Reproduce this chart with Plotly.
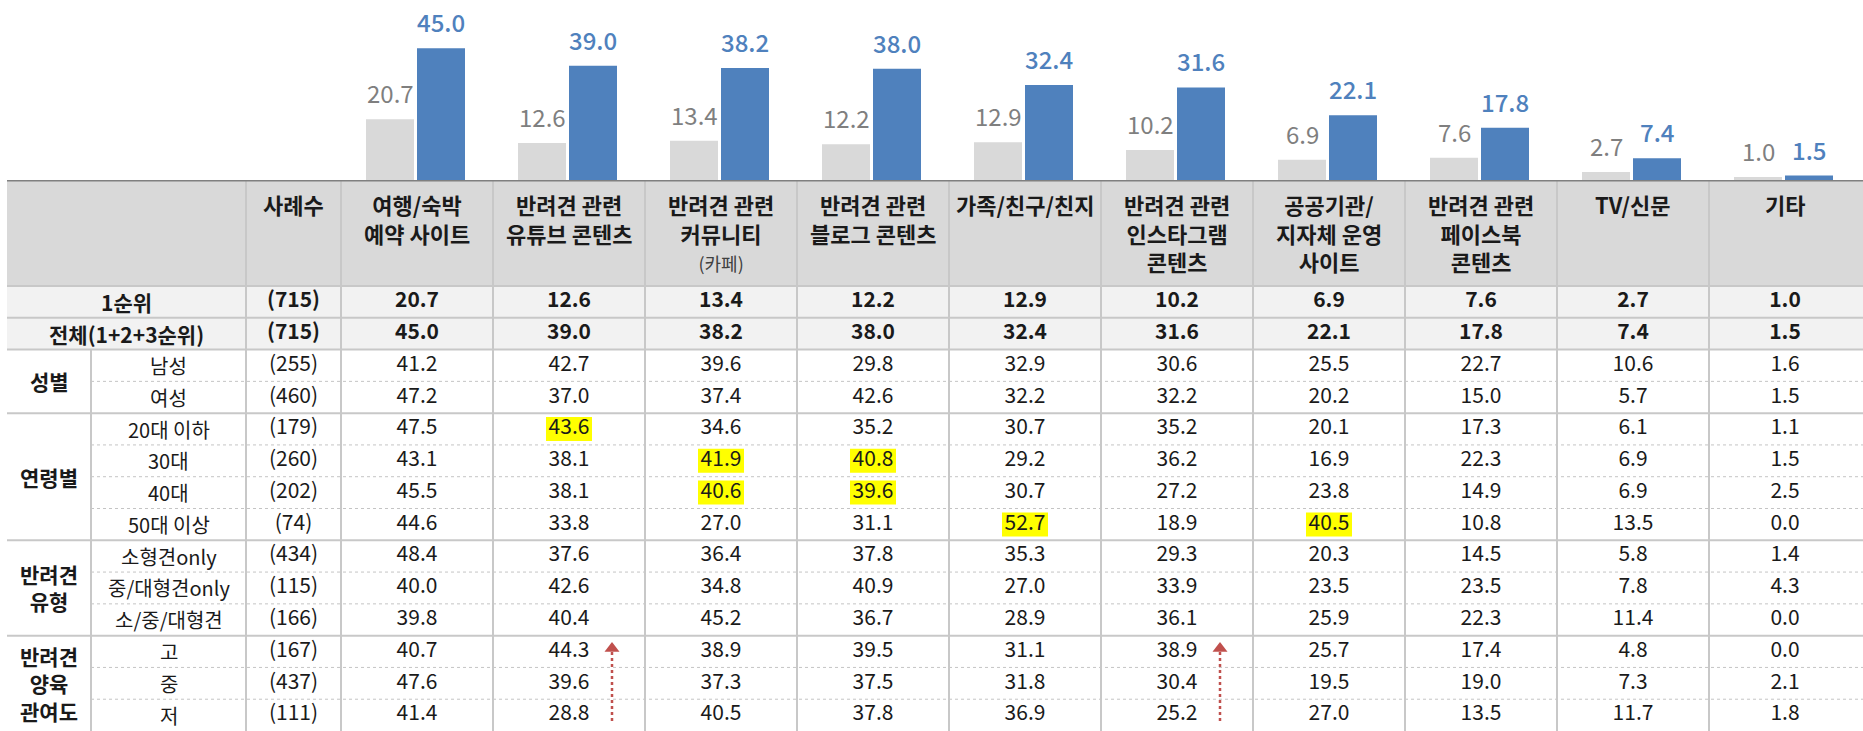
import plotly.graph_objects as go

# ---------------- data ----------------
categories = ["여행/숙박<br>예약 사이트", "반려견 관련<br>유튜브 콘텐츠", "반려견 관련<br>커뮤니티",
              "반려견 관련<br>블로그 콘텐츠", "가족/친구/친지", "반려견 관련<br>인스타그램<br>콘텐츠",
              "공공기관/<br>지자체 운영<br>사이트", "반려견 관련<br>페이스북<br>콘텐츠", "TV/신문", "기타"]
category_notes = ["", "", "(카페)", "", "", "", "", "", "", ""]

first_rank = [20.7, 12.6, 13.4, 12.2, 12.9, 10.2, 6.9, 7.6, 2.7, 1.0]
total_rank = [45.0, 39.0, 38.2, 38.0, 32.4, 31.6, 22.1, 17.8, 7.4, 1.5]

row_labels = ["1순위", "전체(1+2+3순위)", "남성", "여성", "20대 이하", "30대", "40대", "50대 이상",
              "소형견only", "중/대형견only", "소/중/대형견", "고", "중", "저"]
row_n = [715, 715, 255, 460, 179, 260, 202, 74, 434, 115, 166, 167, 437, 111]
row_values = [
    first_rank,
    total_rank,
    [41.2, 42.7, 39.6, 29.8, 32.9, 30.6, 25.5, 22.7, 10.6, 1.6],
    [47.2, 37.0, 37.4, 42.6, 32.2, 32.2, 20.2, 15.0, 5.7, 1.5],
    [47.5, 43.6, 34.6, 35.2, 30.7, 35.2, 20.1, 17.3, 6.1, 1.1],
    [43.1, 38.1, 41.9, 40.8, 29.2, 36.2, 16.9, 22.3, 6.9, 1.5],
    [45.5, 38.1, 40.6, 39.6, 30.7, 27.2, 23.8, 14.9, 6.9, 2.5],
    [44.6, 33.8, 27.0, 31.1, 52.7, 18.9, 40.5, 10.8, 13.5, 0.0],
    [48.4, 37.6, 36.4, 37.8, 35.3, 29.3, 20.3, 14.5, 5.8, 1.4],
    [40.0, 42.6, 34.8, 40.9, 27.0, 33.9, 23.5, 23.5, 7.8, 4.3],
    [39.8, 40.4, 45.2, 36.7, 28.9, 36.1, 25.9, 22.3, 11.4, 0.0],
    [40.7, 44.3, 38.9, 39.5, 31.1, 38.9, 25.7, 17.4, 4.8, 0.0],
    [47.6, 39.6, 37.3, 37.5, 31.8, 30.4, 19.5, 19.0, 7.3, 2.1],
    [41.4, 28.8, 40.5, 37.8, 36.9, 25.2, 27.0, 13.5, 11.7, 1.8],
]
group_labels = ["성별", "연령별", "반려견<br>유형", "반려견<br>양육<br>관여도"]
group_sizes = [2, 4, 3, 3]
highlights = [(4, 1), (5, 2), (5, 3), (6, 2), (6, 3), (7, 4), (7, 6)]  # (row, col)
arrow_cols = [1, 5]

# ---------------- layout constants ----------------
FONT = "Noto Sans CJK KR, Noto Sans, sans-serif"
W, H = 1863, 731
TOP = 180
HDR_BOT = 286
LEFT = 7
GRP_R = 91
LBL_R = 246
N_R = 341
COL_W = 152
N_ROWS = len(row_labels)
ROW_H = (H - HDR_BOT) / N_ROWS
PX_PER_UNIT = 2.93

GREY_BAR = "#d9d9d9"
BLUE_BAR = "#4f81bd"
LINE_C = "#c8c8c8"
TXT = "#1a1a1a"

ncol = len(categories)
col_centers = [N_R + COL_W * (i + 0.5) for i in range(ncol)]
col_edges = [N_R + COL_W * i for i in range(ncol)]
row_centers = [HDR_BOT + ROW_H * (i + 0.5) for i in range(N_ROWS)]
row_edges = [HDR_BOT + ROW_H * i for i in range(N_ROWS + 1)]

split = (H - TOP) / H

fig = go.Figure()

# ---------------- bars ----------------
fig.add_trace(go.Bar(x=col_centers, y=first_rank, width=48, offset=-51, marker_color=GREY_BAR,
                     marker_line_width=0, xaxis="x", yaxis="y", hoverinfo="skip"))
fig.add_trace(go.Bar(x=col_centers, y=total_rank, width=48, offset=0, marker_color=BLUE_BAR,
                     marker_line_width=0, xaxis="x", yaxis="y", hoverinfo="skip"))

annotations = []
for c, v1, v2 in zip(col_centers, first_rank, total_rank):
    annotations.append(dict(x=c - 27, y=v1, xref="x", yref="y", text=f"{v1:.1f}", showarrow=False,
                            yanchor="bottom", yshift=7, font=dict(family=FONT, size=24, color="#7f7f7f")))
    annotations.append(dict(x=c + 24, y=v2, xref="x", yref="y", text=f"{v2:.1f}", showarrow=False,
                            yanchor="bottom", yshift=7,
                            font=dict(family=FONT, size=24, color=BLUE_BAR, weight=500)))

# ---------------- table background shapes ----------------
shapes = []
shapes.append(dict(type="rect", xref="x", yref="y2", x0=LEFT, x1=W, y0=TOP, y1=HDR_BOT,
                   fillcolor="#d9d9d9", line_width=0, layer="below"))
shapes.append(dict(type="rect", xref="x", yref="y2", x0=LEFT, x1=W, y0=row_edges[0], y1=row_edges[2],
                   fillcolor="#f2f2f2", line_width=0, layer="below"))
for r, c in highlights:
    shapes.append(dict(type="rect", xref="x", yref="y2", x0=col_centers[c] - 23, x1=col_centers[c] + 23,
                       y0=row_centers[r] - 12, y1=row_centers[r] + 12,
                       fillcolor="#ffff00", line_width=0, layer="below"))

# horizontal lines
group_starts = [2]
for s in group_sizes[:-1]:
    group_starts.append(group_starts[-1] + s)
solid_rows = [0, 1, 2] + group_starts[1:]
for i in range(1, N_ROWS):
    y = row_edges[i]
    if i in solid_rows:
        shapes.append(dict(type="line", xref="x", yref="y2", x0=LEFT, x1=W, y0=y, y1=y,
                           line=dict(color=LINE_C, width=2)))
    else:
        shapes.append(dict(type="line", xref="x", yref="y2", x0=GRP_R, x1=W, y0=y, y1=y,
                           line=dict(color="#c4c4c4", width=1, dash="dot")))
shapes.append(dict(type="line", xref="x", yref="y2", x0=LEFT, x1=W, y0=HDR_BOT, y1=HDR_BOT,
                   line=dict(color=LINE_C, width=2)))
# vertical lines
for x in [LBL_R] + col_edges:
    shapes.append(dict(type="line", xref="x", yref="y2", x0=x, x1=x, y0=TOP, y1=H,
                       line=dict(color=LINE_C, width=2)))
shapes.append(dict(type="line", xref="x", yref="y2", x0=GRP_R, x1=GRP_R, y0=row_edges[2], y1=H,
                   line=dict(color=LINE_C, width=2)))
# header top line
shapes.append(dict(type="line", xref="x", yref="y2", x0=LEFT, x1=W, y0=TOP, y1=TOP,
                   line=dict(color="#808080", width=3)))

# ---------------- header texts ----------------
def bold_lines(t):
    return "<br>".join(f"<b>{p}</b>" for p in t.split("<br>"))

annotations.append(dict(x=(LBL_R + N_R) / 2, y=TOP + 6, xref="x", yref="y2", text="<b>사례수</b>",
                        showarrow=False, yanchor="top", font=dict(family=FONT, size=22, color=TXT)))
for c, cat, note in zip(col_centers, categories, category_notes):
    t = bold_lines(cat)
    if note:
        t += f"<br><span style='font-size:18px;color:#404040'>{note}</span>"
    annotations.append(dict(x=c, y=TOP + 6, xref="x", yref="y2", text=t, showarrow=False,
                            yanchor="top", align="center", font=dict(family=FONT, size=22, color=TXT)))

# row labels
for i in range(2):
    annotations.append(dict(x=(LEFT + LBL_R) / 2, y=row_centers[i], xref="x", yref="y2",
                            text=f"<b>{row_labels[i]}</b>", showarrow=False,
                            font=dict(family=FONT, size=21, color=TXT)))
for i in range(2, N_ROWS):
    annotations.append(dict(x=(GRP_R + LBL_R) / 2, y=row_centers[i], xref="x", yref="y2",
                            text=row_labels[i], showarrow=False,
                            font=dict(family=FONT, size=20, color=TXT)))
for g, s, n in zip(group_labels, group_starts, group_sizes):
    yc = (row_edges[s] + row_edges[s + n]) / 2
    annotations.append(dict(x=(LEFT + GRP_R) / 2, y=yc, xref="x", yref="y2", text=bold_lines(g),
                            showarrow=False, font=dict(family=FONT, size=21, color=TXT)))

# ---------------- table numbers ----------------
xs, ys, ts = [], [], []
for i in range(N_ROWS):
    b = i < 2
    xs.append((LBL_R + N_R) / 2)
    ys.append(row_centers[i])
    ts.append(f"<b>({row_n[i]})</b>" if b else f"({row_n[i]})")
    for j in range(ncol):
        xs.append(col_centers[j])
        ys.append(row_centers[i])
        v = f"{row_values[i][j]:.1f}"
        ts.append(f"<b>{v}</b>" if b else v)
fig.add_trace(go.Scatter(x=xs, y=ys, text=ts, mode="text", textposition="middle center",
                         textfont=dict(family=FONT, size=21, color=TXT),
                         xaxis="x", yaxis="y2", hoverinfo="skip", cliponaxis=False))

# ---------------- arrows ----------------
last = group_starts[-1]
for c in arrow_cols:
    ax = col_centers[c] + 43
    fig.add_trace(go.Scatter(x=[ax, ax], y=[row_edges[last + 3] - 10, row_centers[last] - 3],
                             mode="lines", line=dict(color="#c0504d", width=2.5, dash="dot"),
                             xaxis="x", yaxis="y2", hoverinfo="skip"))
    fig.add_trace(go.Scatter(x=[ax], y=[row_centers[last] - 3], mode="markers",
                             marker=dict(symbol="triangle-up", size=13, color="#c0504d"),
                             xaxis="x", yaxis="y2", hoverinfo="skip"))

fig.update_layout(
    width=W, height=H, margin=dict(l=0, r=0, t=0, b=0, pad=0),
    paper_bgcolor="white", plot_bgcolor="white", showlegend=False, barmode="overlay",
    xaxis=dict(range=[0, W], domain=[0, 1], visible=False, fixedrange=True),
    yaxis=dict(range=[0, TOP / PX_PER_UNIT], domain=[split, 1], visible=False, fixedrange=True),
    yaxis2=dict(range=[H, TOP], domain=[0, split], visible=False, fixedrange=True),
    shapes=shapes, annotations=annotations,
)

fig.write_html("out.html", config={"displayModeBar": False},
               post_script="document.body.style.margin='0';document.body.style.overflow='hidden';")
